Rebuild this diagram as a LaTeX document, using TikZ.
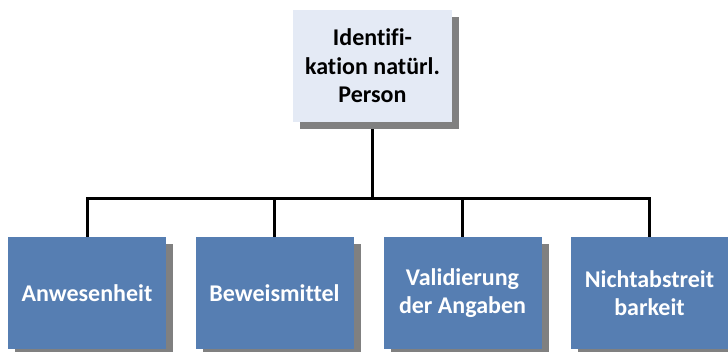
\documentclass[tikz,border=0pt]{standalone}
\usepackage{fontspec}
\setmainfont{Carlito}[Ligatures={NoCommon}]
\usetikzlibrary{shadows}
\definecolor{boxblue}{HTML}{567EB2}
\definecolor{boxlight}{HTML}{E4EAF5}
\definecolor{shade}{HTML}{808080}
\tikzset{
  unit/.style={rectangle, minimum width=158pt, minimum height=112pt, inner sep=2pt,
    align=center, font=\fontsize{24}{28.5}\selectfont\bfseries,
    drop shadow={shadow xshift=7pt, shadow yshift=-7pt, fill=shade, opacity=1}},
  rootbox/.style={unit, fill=boxlight, text=black, minimum width=159pt},
  leafbox/.style={unit, fill=boxblue, text=white},
  wire/.style={line width=3pt, black}
}
\begin{document}
\begin{tikzpicture}[x=1pt, y=-1pt]
  \useasboundingbox (0,0) rectangle (728,351);
  % bus line position
  \coordinate (bus) at (372.5,198);
  % connectors first, so the boxes and their shadows sit on top
  \begin{scope}[wire]
    \draw (372.5,66) -- (bus);
    \draw (87,293) -- (87,198) -- (649.5,198) -- (649.5,293);
    \draw (274.5,293) -- (274.5,198);
    \draw (462.5,293) -- (462.5,198);
  \end{scope}
  \node[rootbox] (root) at (372.5,66) {Identifi-\\kation natürl.\\Person};
  \node[leafbox] (a) at (87,293) {Anwesenheit};
  \node[leafbox] (b) at (274.5,293) {Beweismittel};
  \node[leafbox] (c) at (462.5,293) {Validierung\\der Angaben};
  \node[leafbox] (d) at (649.5,293) {Nichtabstreit\\barkeit};
\end{tikzpicture}
\end{document}
